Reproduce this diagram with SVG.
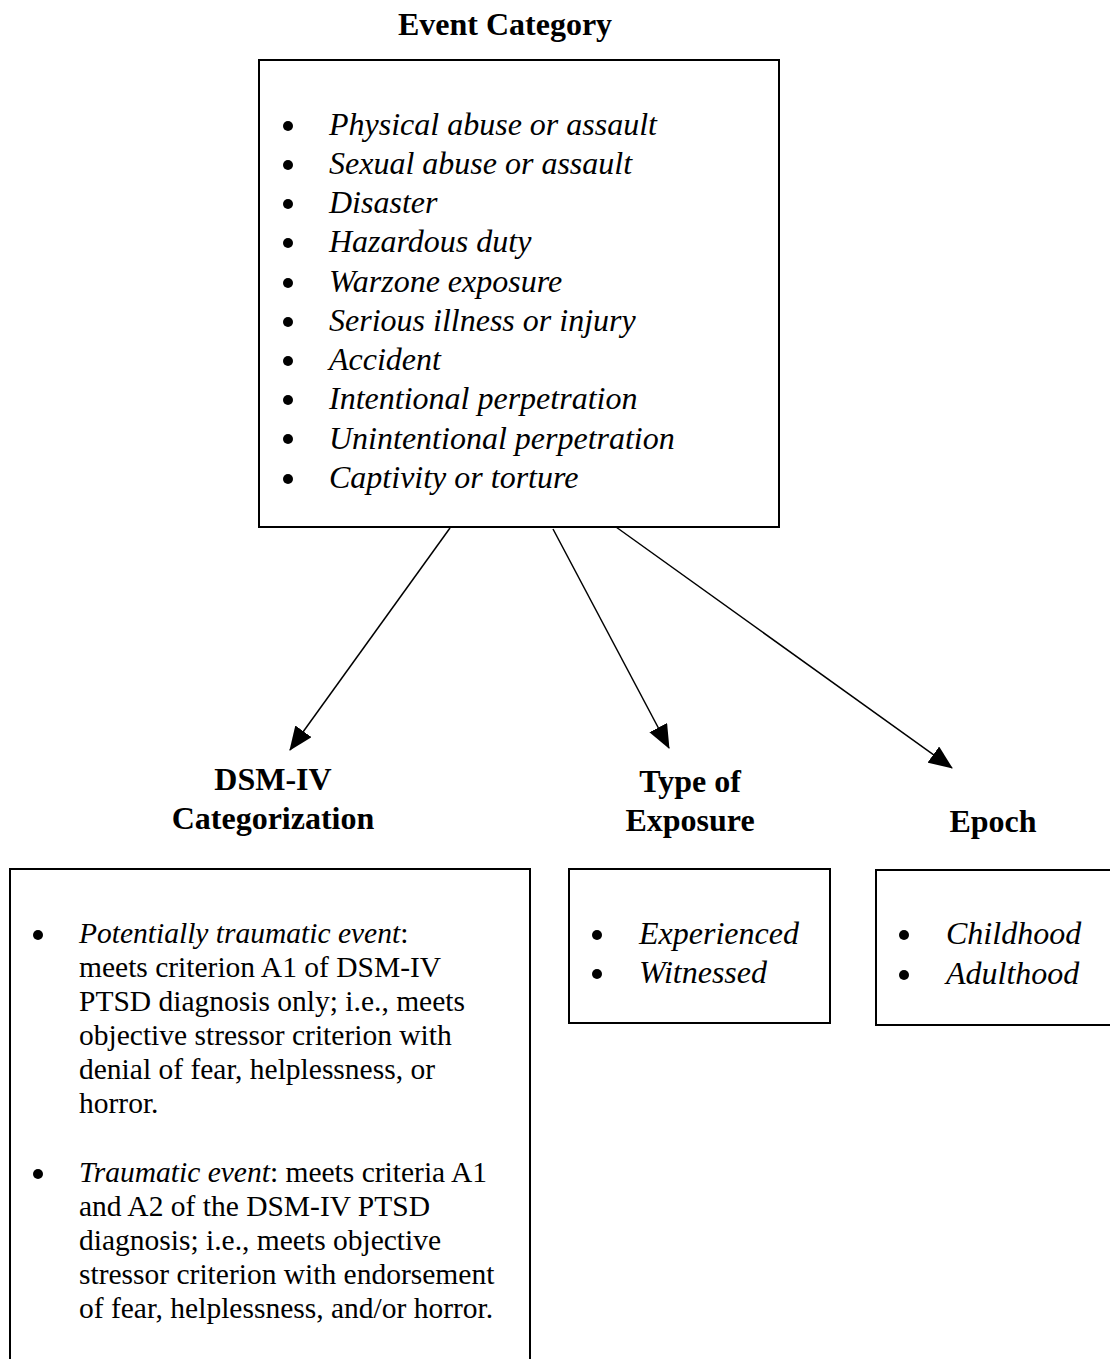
<svg xmlns="http://www.w3.org/2000/svg" width="1110" height="1359" viewBox="0 0 1110 1359">
<style>
.box{fill:#fff;stroke:#000;stroke-width:2}
.t{font-family:"Liberation Serif","Times New Roman",serif;fill:#000}
.h{font-size:32px;font-weight:bold;text-anchor:middle}
.i{font-size:32px;font-style:italic}
.r{font-size:29.5px}
.ri{font-style:italic}
.con{stroke:#000;stroke-width:1.5;fill:none}
</style>
<defs>
<marker id="ahL" markerWidth="24" markerHeight="20" refX="23" refY="10" orient="auto" markerUnits="userSpaceOnUse" viewBox="0 0 24 20">
<path d="M0,0 L24,10 L0,20 Z" fill="#000"/>
</marker>
</defs>
<rect width="1110" height="1359" fill="#fff"/>
<g id="event-category">
<text class="t h" x="505" y="35">Event Category</text>
<rect class="box" x="259" y="60" width="520" height="467"/>
<g class="t i">
<circle cx="288" cy="126" r="5"/><text x="329" y="135">Physical abuse or assault</text>
<circle cx="288" cy="165" r="5"/><text x="329" y="174">Sexual abuse or assault</text>
<circle cx="288" cy="204" r="5"/><text x="329" y="213">Disaster</text>
<circle cx="288" cy="243" r="5"/><text x="329" y="252">Hazardous duty</text>
<circle cx="288" cy="283" r="5"/><text x="329" y="292">Warzone exposure</text>
<circle cx="288" cy="322" r="5"/><text x="329" y="331">Serious illness or injury</text>
<circle cx="288" cy="361" r="5"/><text x="329" y="370">Accident</text>
<circle cx="288" cy="400" r="5"/><text x="329" y="409">Intentional perpetration</text>
<circle cx="288" cy="439" r="5"/><text x="329" y="449">Unintentional perpetration</text>
<circle cx="288" cy="479" r="5"/><text x="329" y="488">Captivity or torture</text>
</g>
</g>
<g id="connectors">
<line class="con" x1="450" y1="528" x2="290" y2="750" marker-end="url(#ahL)"/>
<line class="con" x1="553" y1="529" x2="669" y2="748" marker-end="url(#ahL)"/>
<line class="con" x1="616" y1="527" x2="952" y2="768" marker-end="url(#ahL)"/>
</g>
<g id="dsm-iv">
<text class="t h" x="273" y="790">DSM-IV</text>
<text class="t h" x="273" y="829">Categorization</text>
<rect class="box" x="10" y="869" width="520" height="500"/>
<g class="t r">
<circle cx="38" cy="935" r="5"/>
<text x="79" y="943"><tspan class="ri">Potentially traumatic event</tspan>:</text>
<text x="79" y="977">meets criterion A1 of DSM-IV</text>
<text x="79" y="1011">PTSD diagnosis only; i.e., meets</text>
<text x="79" y="1045">objective stressor criterion with</text>
<text x="79" y="1079">denial of fear, helplessness, or</text>
<text x="79" y="1113">horror.</text>
<circle cx="38" cy="1174" r="5"/>
<text x="79" y="1182"><tspan class="ri">Traumatic event</tspan>: meets criteria A1</text>
<text x="79" y="1216">and A2 of the DSM-IV PTSD</text>
<text x="79" y="1250">diagnosis; i.e., meets objective</text>
<text x="79" y="1284">stressor criterion with endorsement</text>
<text x="79" y="1318">of fear, helplessness, and/or horror.</text>
</g>
</g>
<g id="type-of-exposure">
<text class="t h" x="690" y="792">Type of</text>
<text class="t h" x="690" y="831">Exposure</text>
<rect class="box" x="569" y="869" width="261" height="154"/>
<g class="t i">
<circle cx="597" cy="935" r="5"/><text x="639" y="944">Experienced</text>
<circle cx="597" cy="974" r="5"/><text x="639" y="983">Witnessed</text>
</g>
</g>
<g id="epoch">
<text class="t h" x="993" y="832">Epoch</text>
<rect class="box" x="876" y="870" width="250" height="155"/>
<g class="t i">
<circle cx="904" cy="935" r="5"/><text x="946" y="944">Childhood</text>
<circle cx="904" cy="975" r="5"/><text x="946" y="984">Adulthood</text>
</g>
</g>
</svg>
